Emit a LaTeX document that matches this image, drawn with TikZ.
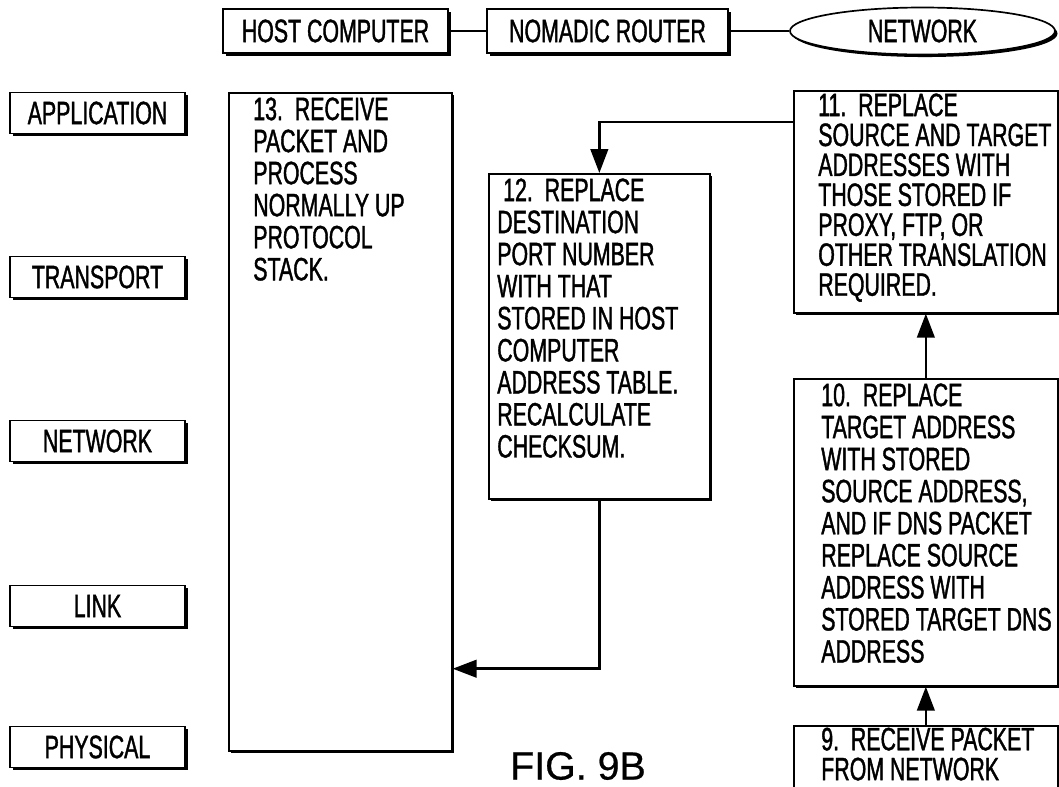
\documentclass[tikz,border=0pt]{standalone}
\usepackage{fontspec}
\setmainfont{Liberation Sans}[FakeStretch=0.66, FakeBold=1.2]
\newfontfamily\figfont{Liberation Sans}[FakeBold=0.6]
\usetikzlibrary{arrows.meta, positioning, shapes.geometric, shadows}

\begin{document}
\begin{tikzpicture}[
    x=0.25mm, y=-0.25mm,
    font=\fontsize{23pt}{22.8pt}\selectfont,
    box/.style={draw, line width=1.2pt, fill=white, inner sep=0pt,
                drop shadow={shadow xshift=1.8pt, shadow yshift=-1.8pt,
                             fill=black, opacity=1}},
    layer/.style={box, minimum width=43.75mm, minimum height=10.25mm},
    stepbox/.style={box, anchor=north west},
    steptext/.style={anchor=north west, inner sep=0pt, align=left},
    wire/.style={line width=1.4pt},
    arr/.style={line width=1.8pt, -{Triangle[length=6mm, width=4.4mm]}},
  ]
  \useasboundingbox (0,0) rectangle (1059,786);
  \clip (0,0) rectangle (1059,786);

  % --- top row: host, router, network ---
  \node[box, minimum width=56.25mm, minimum height=11mm] (host) at (335.5,31) {HOST COMPUTER};
  \node[box, minimum width=60.25mm, minimum height=11mm] (router) at (607.5,31) {NOMADIC ROUTER};
  \node[box, ellipse, minimum width=66.25mm, minimum height=11.75mm] (net) at (922.5,31) {NETWORK};
  \draw[wire] (host) -- (router);
  \draw[wire] (router) -- (net);

  % --- protocol layers ---
  \foreach \name/\y/\txt in {application/113/APPLICATION, transport/277/TRANSPORT,
      network/441/NETWORK, link/606/LINK, physical/747/PHYSICAL}
    \node[layer] (\name) at (97.5,\y) {\txt};

  % --- process steps (boxes) ---
  \node[stepbox, minimum width=55.75mm, minimum height=164.5mm] (b13) at (228,92) {};
  \node[stepbox, minimum width=55.25mm, minimum height=81.25mm] (b12) at (488,173) {};
  \node[stepbox, minimum width=66mm, minimum height=55.5mm] (b11) at (793,90) {};
  \node[stepbox, minimum width=66mm, minimum height=76.75mm] (b10) at (793,378) {};
  \node[stepbox, minimum width=66mm, minimum height=20mm] (b9) at (793,725) {};

  % --- process steps (texts) ---
  \node[steptext] (t13) at ([xshift=6.25mm, yshift=-1.3mm]b13.north west)
    {13.~~RECEIVE\\PACKET AND\\PROCESS\\NORMALLY UP\\PROTOCOL\\STACK.};
  \node[steptext] (t12) at ([xshift=2.25mm, yshift=-1.3mm]b12.north west)
    {~12.~~REPLACE\\DESTINATION\\PORT NUMBER\\WITH THAT\\STORED IN HOST\\COMPUTER\\ADDRESS TABLE.\\RECALCULATE\\CHECKSUM.};
  \node[steptext, font=\fontsize{23pt}{21.3pt}\selectfont] (t11) at ([xshift=6.25mm, yshift=-0.8mm]b11.north west)
    {11.~~REPLACE\\SOURCE AND TARGET\\ADDRESSES WITH\\THOSE STORED IF\\PROXY, FTP, OR\\OTHER TRANSLATION\\REQUIRED.};
  \node[steptext] (t10) at ([xshift=7mm, yshift=-1.3mm]b10.north west)
    {10.~~REPLACE\\TARGET ADDRESS\\WITH STORED\\SOURCE ADDRESS,\\AND IF DNS PACKET\\REPLACE SOURCE\\ADDRESS WITH\\STORED TARGET DNS\\ADDRESS};
  \node[steptext, font=\fontsize{23pt}{21.3pt}\selectfont] (t9) at ([xshift=7mm, yshift=-0.6mm]b9.north west)
    {9.~~RECEIVE PACKET\\FROM NETWORK};

  % --- flow ---
  \draw[arr] (b9) -- (b10);
  \draw[arr] (b10) -- (b11);
  \draw[arr] ([yshift=-8mm]b11.north west) -| (b12.north);
  \draw[arr] (b12.south) |- ([yshift=20.75mm]b13.south east);

  \node[font=\figfont\fontsize{28pt}{28pt}\selectfont, inner sep=0pt] (fig) at (578,766) {FIG. 9B};
\end{tikzpicture}
\end{document}
